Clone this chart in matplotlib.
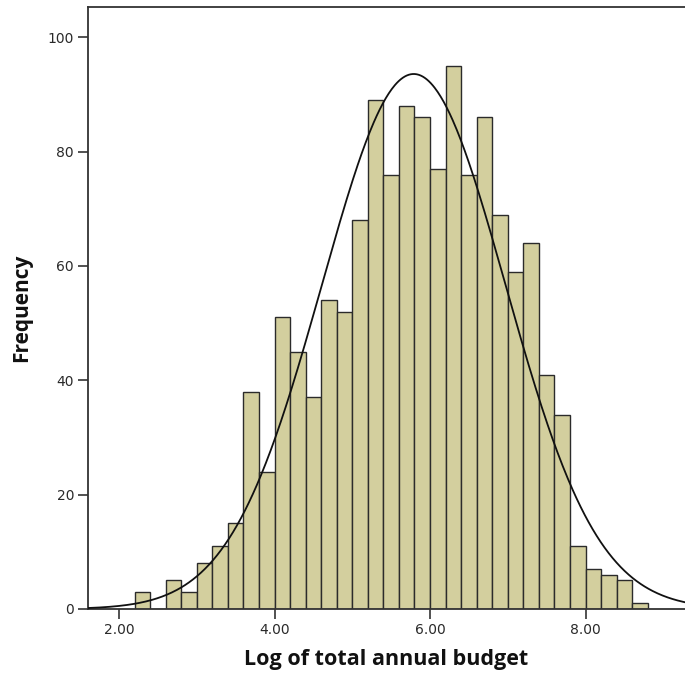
import numpy as np
import matplotlib
matplotlib.use("Agg")
import matplotlib.pyplot as plt

plt.rcParams["font.family"] = ["DejaVu Sans"]

# Histogram data (bin left edges and counts)
bin_start = 2.2
bin_width = 0.2
counts = [3, 0, 5, 3, 8, 11, 15, 38, 24, 51, 45, 37, 54, 52, 68, 89, 76,
          88, 86, 77, 95, 76, 86, 69, 59, 64, 41, 34, 11, 7, 6, 5, 1]
# Normal curve parameters (as fitted by SPSS)
curve_mean = 5.79
curve_sd = 1.18

x_ticks = [2.0, 4.0, 6.0, 8.0]
x_tick_labels = ["2.00", "4.00", "6.00", "8.00"]
y_ticks = [0, 20, 40, 60, 80, 100]

edges = bin_start + bin_width * np.arange(len(counts))
n_total = sum(counts)

fig = plt.figure(figsize=(6.85, 6.79), dpi=100)
ax = fig.add_axes([88 / 685, (679 - 609) / 679, 1 - 88 / 685, (609 - 7) / 679])

ax.bar(edges, counts, width=bin_width, align="edge",
       color="#D3CF9E", edgecolor="#2b2b2b", linewidth=1.0, zorder=2)

xs = np.linspace(1.6, 9.3, 600)
ys = n_total * bin_width / (curve_sd * np.sqrt(2 * np.pi)) * \
    np.exp(-0.5 * ((xs - curve_mean) / curve_sd) ** 2)
ax.plot(xs, ys, color="#111111", linewidth=1.3, zorder=3)

ax.set_xlim(1.6, 9.28)
ax.set_ylim(0, 105.3)
ax.set_xticks(x_ticks)
ax.set_xticklabels(x_tick_labels)
ax.set_yticks(y_ticks)

for s in ["left", "bottom", "top"]:
    ax.spines[s].set_color("#333333")
    ax.spines[s].set_linewidth(1.3)
ax.spines["right"].set_visible(False)

ax.tick_params(axis="both", direction="out", length=7, width=1.2,
               color="#333333", labelsize=10, labelcolor="#2a2a2a", pad=3)
for lab in ax.get_xticklabels() + ax.get_yticklabels():
    lab.set_family("DejaVu Sans")

ax.set_xlabel("Log of total annual budget", fontsize=15.5, fontweight="bold",
              family=["Open Sans", "DejaVu Sans"], labelpad=9, color="#111111")
ax.set_ylabel("Frequency", fontsize=15, fontweight="bold",
              family=["Open Sans", "DejaVu Sans"], labelpad=11, color="#111111")

fig.savefig("out.png", dpi=100)
